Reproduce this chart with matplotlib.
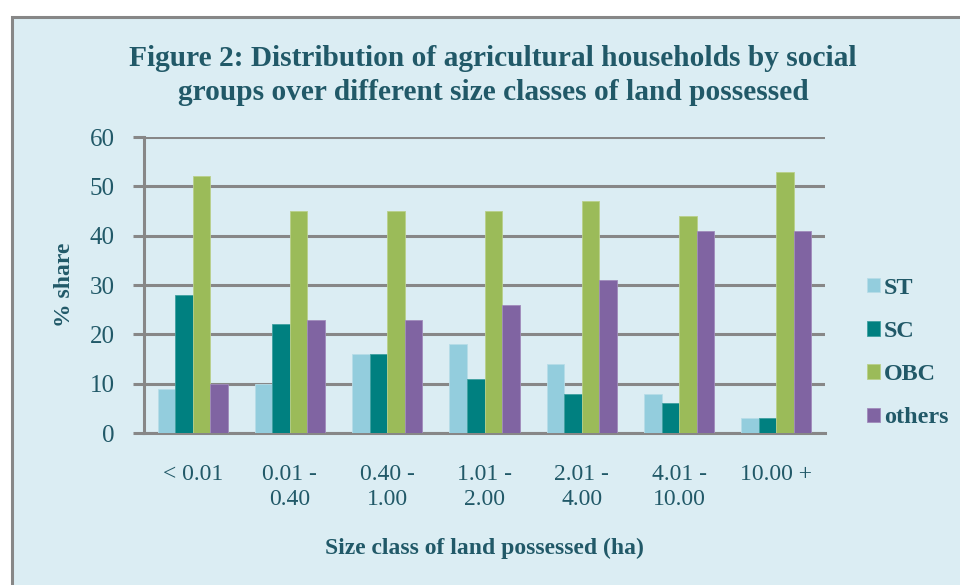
import matplotlib.pyplot as plt
import numpy as np
from matplotlib.patches import Rectangle

categories = ["< 0.01", "0.01 -\n0.40", "0.40 -\n1.00", "1.01 -\n2.00",
              "2.01 -\n4.00", "4.01 -\n10.00", "10.00 +"]
st = [9, 10, 16, 18, 14, 8, 3]
sc = [28, 22, 16, 11, 8, 6, 3]
obc = [52, 45, 45, 45, 47, 44, 53]
others = [10, 23, 23, 26, 31, 41, 41]

BG = "#dbedf3"
TXT = "#215968"
GRID = "#878787"

plt.rcParams["font.family"] = ["Liberation Serif", "DejaVu Serif"]

fig = plt.figure(figsize=(9.6, 5.85), dpi=100, facecolor="white")
fig.patches.append(Rectangle((11.5 / 960, -0.05), 1.1, (585 - 16.5) / 585 + 0.05,
                             transform=fig.transFigure, facecolor=BG,
                             edgecolor=GRID, linewidth=2.2, zorder=-5))

ax = fig.add_axes([144 / 960, 152 / 585, 681 / 960, 296 / 585], zorder=2)
ax.set_facecolor("none")

x = np.arange(len(categories))
w = 0.18
series = [
    (st, "ST", "#93cddd", "#b7dde8"),
    (sc, "SC", "#008080", "#3fa0a0"),
    (obc, "OBC", "#9bbb59", "#b9d08a"),
    (others, "others", "#8064a2", "#a08bbb"),
]
for i, (vals, lbl, color, edge) in enumerate(series):
    ax.bar(x + (i - 1.5) * w, vals, w, label=lbl, color=color,
           edgecolor=edge, linewidth=0.6, zorder=3)

ax.set_ylim(0, 60)
ax.set_xlim(-0.5, len(categories) - 0.5)
ax.set_yticks(range(0, 61, 10))
ax.yaxis.grid(True, color=GRID, linewidth=2.2, zorder=1)
ax.set_xticks(x)
ax.set_xticklabels(categories, fontsize=17, color=TXT, linespacing=1.25)
ax.tick_params(axis="x", length=0, pad=22)
ax.tick_params(axis="y", length=8, width=2.2, color=GRID, labelsize=18,
               labelcolor=TXT, pad=13)
for s in ["top", "right"]:
    ax.spines[s].set_visible(False)
for s in ["left", "bottom"]:
    ax.spines[s].set_color(GRID)
    ax.spines[s].set_linewidth(2.2)

ax.set_ylabel("% share", fontsize=17, fontweight="bold", color=TXT, labelpad=11)
ax.set_xlabel("Size class of land possessed (ha)", fontsize=17,
              fontweight="bold", color=TXT, labelpad=20)

leg = ax.legend(loc="center left", bbox_to_anchor=(1.03, 0.27), frameon=False,
                prop={"size": 17.4, "weight": "bold"}, handlelength=0.54,
                handleheight=0.54, handletextpad=0.15, labelspacing=0.92)
for t in leg.get_texts():
    t.set_color(TXT)

fig.text(493 / 960, 1 - 58 / 585,
         "Figure 2: Distribution of agricultural households by social",
         ha="center", va="center", fontsize=21.2, fontweight="bold", color=TXT)
fig.text(493 / 960, 1 - 92 / 585,
         "groups over different size classes of land possessed",
         ha="center", va="center", fontsize=21.2, fontweight="bold", color=TXT)

fig.savefig("out.png", dpi=100, facecolor="white")
